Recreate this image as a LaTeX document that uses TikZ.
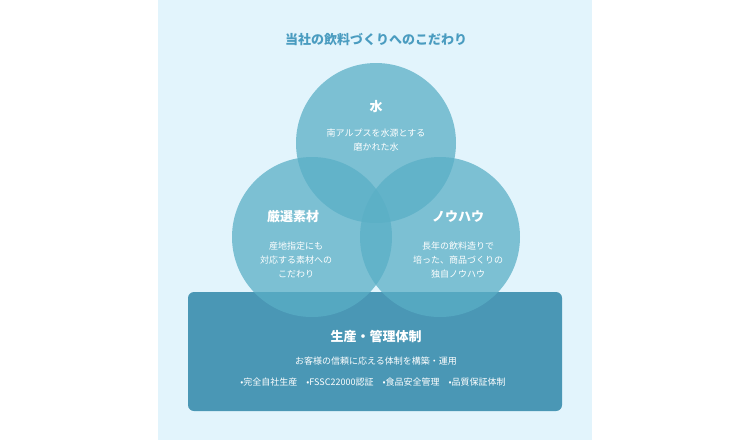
\documentclass[tikz,border=0pt]{standalone}
\usepackage{fontspec}
\newfontfamily\cjk{Noto Sans CJK JP}
\newfontfamily\cjkb{Noto Sans CJK JP Bold}
\begin{document}
\begin{tikzpicture}[x=1pt,y=-1pt,font=\cjk,
  circ/.style={fill=circc,fill opacity=0.75,draw=none},
  head/.style={text=white,font=\cjk\bfseries\fontsize{13}{15}\selectfont},
  body/.style={text=white,font=\cjk\fontsize{9}{14}\selectfont,align=center}]
\definecolor{panel}{HTML}{E2F4FC}
\definecolor{circc}{HTML}{5AAFC6}
\definecolor{rectc}{HTML}{4A97B5}
\definecolor{titlec}{HTML}{4A9CC0}
\useasboundingbox (0,0) rectangle (750,440);
\fill[white] (0,0) rectangle (750,440);
\fill[panel] (158,0) rectangle (592,440);
\node[text=titlec,font=\cjk\bfseries\fontsize{13}{15}\selectfont] (title) at (376,40) {当社の飲料づくりへのこだわり};
\fill[rectc,rounded corners=6pt] (188,292) rectangle (562,411);
\fill[circ] (376,143) circle (80);
\fill[circ] (312,237) circle (80);
\fill[circ] (440,237) circle (80);
\node[head] (w) at (376,107) {水};
\node[body] (wt) at (376,140) {南アルプスを水源とする\\磨かれた水};
\node[head] (s) at (293,217) {厳選素材};
\node[body] (st) at (296,260) {産地指定にも\\対応する素材への\\こだわり};
\node[head] (k) at (458,217) {ノウハウ};
\node[body] (kt) at (458,260) {長年の飲料造りで\\培った、商品づくりの\\独自ノウハウ};
\node[head] (p) at (376,337) {生産・管理体制};
\node[body] (pt) at (376,361) {お客様の信頼に応える体制を構築・運用};
\node[body] (pl) at (373,382) {•完全自社生産\quad •FSSC22000認証\quad •食品安全管理\quad •品質保証体制};
\end{tikzpicture}
\end{document}
